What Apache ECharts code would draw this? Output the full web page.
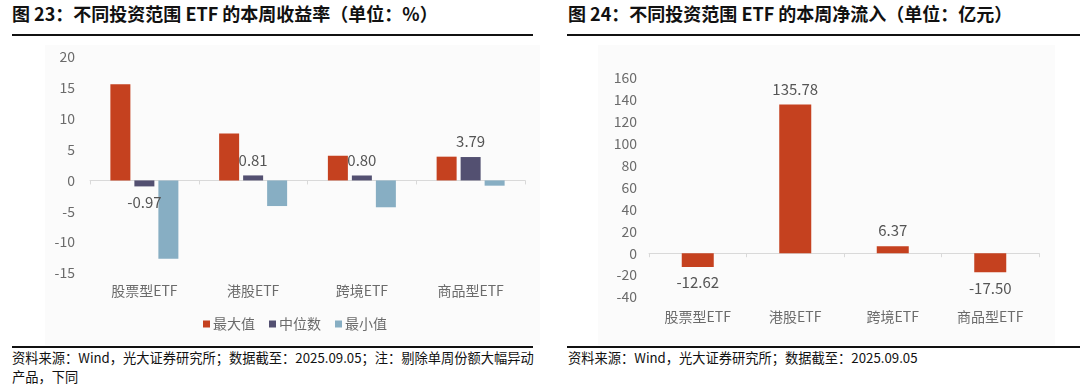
<!DOCTYPE html>
<html><head><meta charset="utf-8">
<script src="https://cdn.jsdelivr.net/npm/echarts@6/dist/echarts.min.js"></script>
<style>
html,body{margin:0;padding:0;background:#fff;width:1080px;height:387px;overflow:hidden;font-family:"Noto Sans CJK SC","Noto Sans",sans-serif;}
.t{position:absolute;font-weight:bold;font-size:18px;color:#111;white-space:nowrap;line-height:20px;}
.l{position:absolute;height:2px;background:#111;}
.n{position:absolute;font-size:13.25px;color:#111;line-height:19px;white-space:nowrap;}
.bg{position:absolute;background:#fbfbfb;}
#c{position:absolute;left:0;top:0;width:1080px;height:387px;}
</style></head><body>
<div class="bg" style="left:45px;top:45px;width:495px;height:300px"></div>
<div class="bg" style="left:598px;top:45px;width:457px;height:300px"></div>
<div class="t" style="left:12px;top:3px">图 23：不同投资范围 ETF 的本周收益率（单位：%）</div>
<div class="l" style="left:12px;top:34px;width:521px"></div>
<div class="t" style="left:568px;top:3px">图 24：不同投资范围 ETF 的本周净流入（单位：亿元）</div>
<div class="l" style="left:567px;top:34px;width:513px"></div>
<div class="l" style="left:12px;top:346px;width:521px"></div>
<div class="l" style="left:567px;top:346px;width:513px"></div>
<div class="n" style="left:12px;top:348px">资料来源：Wind，光大证券研究所；数据截至：2025.09.05；注：剔除单周份额大幅异动<br>产品，下同</div>
<div class="n" style="left:568px;top:348px">资料来源：Wind，光大证券研究所；数据截至：2025.09.05</div>
<div id="c"></div>
<script>
const categories = ['股票型ETF', '港股ETF', '跨境ETF', '商品型ETF'];
const maxValues = [15.6, 7.6, 4.0, 3.85];
const medianValues = [-0.97, 0.81, 0.80, 3.79];
const minValues = [-12.7, -4.15, -4.35, -0.85];
const seriesNames = ['最大值', '中位数', '最小值'];
const netInflow = [-12.62, 135.78, 6.37, -17.50];
const leftTicks = {min: -15, max: 20, interval: 5};
const rightTicks = {min: -40, max: 160, interval: 20};

const RED = '#C5411F', PURPLE = '#535071', BLUE = '#87AEC3';
const FONT = '"Noto Sans CJK SC","Noto Sans",sans-serif';
const gray = '#6b6b6b';
const chart = echarts.init(document.getElementById('c'), null, {renderer: 'canvas'});
const xAxisCommon = {
  type: 'category', data: categories,
  axisLine: {onZero: true, lineStyle: {color: '#d9d9d9'}},
  axisTick: {show: true, lineStyle: {color: '#d9d9d9'}, length: 4},
  axisLabel: {color: gray, fontSize: 14, fontFamily: FONT, interval: 0},
  splitLine: {show: false}
};
const yAxisCommon = {
  type: 'value',
  axisLine: {show: false}, axisTick: {show: false},
  splitLine: {show: false},
  axisLabel: {color: gray, fontSize: 14, fontFamily: FONT}
};
function labelPos(v){ return v < 0 ? 'bottom' : 'top'; }
chart.setOption({
  animation: false,
  textStyle: {fontFamily: FONT},
  legend: {
    data: seriesNames, left: 198, top: 312,
    itemWidth: 7, itemHeight: 7, itemGap: 14,
    icon: 'rect',
    textStyle: {color: gray, fontSize: 14, fontFamily: FONT, padding: [0, 0, 0, -2]}
  },
  grid: [
    {left: 90, top: 57, width: 435, height: 216},
    {left: 649, top: 78, width: 390, height: 219}
  ],
  xAxis: [
    Object.assign({gridIndex: 0}, xAxisCommon, {axisLabel: Object.assign({}, xAxisCommon.axisLabel, {margin: 11})}),
    Object.assign({gridIndex: 1}, xAxisCommon, {axisLabel: Object.assign({}, xAxisCommon.axisLabel, {margin: 13})})
  ],
  yAxis: [
    Object.assign({gridIndex: 0}, yAxisCommon, leftTicks, {axisLabel: Object.assign({}, yAxisCommon.axisLabel, {margin: 15})}),
    Object.assign({gridIndex: 1}, yAxisCommon, rightTicks, {axisLabel: Object.assign({}, yAxisCommon.axisLabel, {margin: 12})})
  ],
  series: [
    {name: seriesNames[0], type: 'bar', xAxisIndex: 0, yAxisIndex: 0, data: maxValues,
     barWidth: 20, barGap: '20%', itemStyle: {color: RED}},
    {name: seriesNames[1], type: 'bar', xAxisIndex: 0, yAxisIndex: 0,
     data: medianValues.map(v => ({value: v, label: {position: labelPos(v)}})),
     barWidth: 20, barGap: '20%', itemStyle: {color: PURPLE},
     label: {show: true, color: '#555', fontSize: 15, fontFamily: FONT, distance: 8, formatter: p => p.value.toFixed(2)}},
    {name: seriesNames[2], type: 'bar', xAxisIndex: 0, yAxisIndex: 0, data: minValues,
     barWidth: 20, barGap: '20%', itemStyle: {color: BLUE}},
    {name: '净流入', type: 'bar', xAxisIndex: 1, yAxisIndex: 1,
     data: netInflow.map(v => ({value: v, label: {position: labelPos(v)}})),
     barWidth: 32, itemStyle: {color: RED},
     label: {show: true, color: '#555', fontSize: 15, fontFamily: FONT, distance: 8, formatter: p => p.value.toFixed(2)}}
  ]
});
</script>
</body></html>
